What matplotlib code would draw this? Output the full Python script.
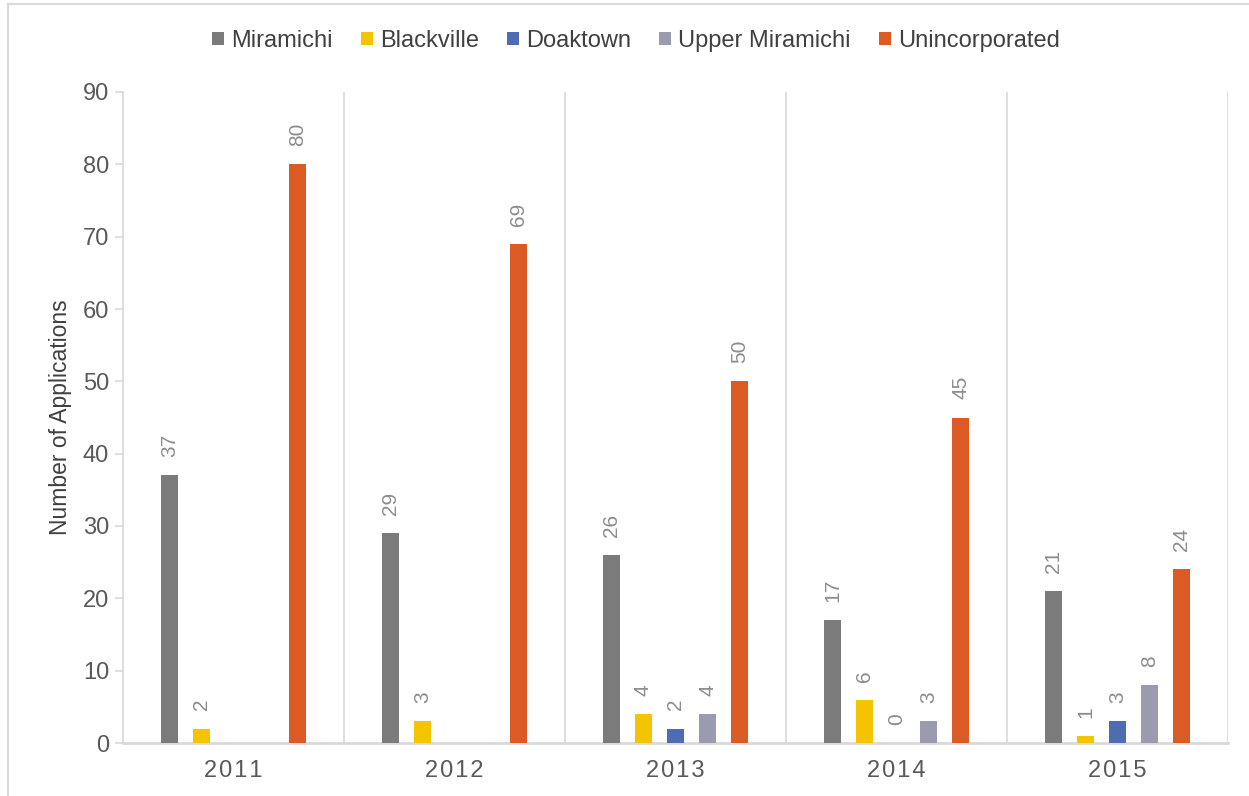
import numpy as np
import matplotlib.pyplot as plt
from matplotlib.lines import Line2D

plt.rcParams['font.family'] = ['Liberation Sans', 'DejaVu Sans']

years = ['2011', '2012', '2013', '2014', '2015']
series = ['Miramichi', 'Blackville', 'Doaktown', 'Upper Miramichi', 'Unincorporated']
miramichi = [37, 29, 26, 17, 21]
blackville = [2, 3, 4, 6, 1]
doaktown = [np.nan, np.nan, 2, 0, 3]
upper_miramichi = [np.nan, np.nan, 4, 3, 8]
unincorporated = [80, 69, 50, 45, 24]
values = [miramichi, blackville, doaktown, upper_miramichi, unincorporated]
colors = ['#7b7b7b', '#f5c400', '#4e6db0', '#9a9bae', '#dc5a24']

fig = plt.figure(figsize=(12.49, 7.96), dpi=100)
ax = fig.add_axes([123 / 1249, 1 - 743 / 796, (1228 - 123) / 1249, (743 - 92) / 796])

x = np.arange(len(years))
step = 0.1448
width = 0.077
for i, (name, vals, c) in enumerate(zip(series, values, colors)):
    pos = x + (i - 2) * step
    ax.bar(pos, vals, width=width, color=c, label=name, zorder=3)
    for px, v in zip(pos, vals):
        if np.isnan(v):
            continue
        ax.annotate(f'{int(v)}', (px, v), xytext=(0, 13), textcoords='offset points',
                    ha='center', va='bottom', rotation=90, fontsize=15, color='#8c8c8c')

ax.set_xlim(-0.5, len(years) - 0.5)
ax.set_ylim(0, 90)
ax.set_yticks(range(0, 91, 10))
ax.set_xticks(x)
# slight letter spacing like the original
ax.set_xticklabels(['\u200a'.join(y) for y in years], fontsize=17, color='#595959')
ax.tick_params(axis='x', length=0, pad=12)
ax.tick_params(axis='y', labelsize=17, labelcolor='#595959', color='#d9d9d9', length=6, width=1.2, pad=4)

for b in x[:-1] + 0.5:
    ax.axvline(b, color='#d9d9d9', lw=1.2, zorder=1)
ax.axvline(len(years) - 0.5, color='#d9d9d9', lw=1.2, zorder=1)

for s in ['top', 'right']:
    ax.spines[s].set_visible(False)
ax.spines['left'].set_color('#d9d9d9')
ax.spines['left'].set_linewidth(1.2)
ax.spines['bottom'].set_color('#d9d9d9')
ax.spines['bottom'].set_linewidth(2)

ax.set_ylabel('Number of Applications', fontsize=16.5, color='#404040', labelpad=8)

handles, labels = ax.get_legend_handles_labels()
fig.legend(handles, labels, loc='center', bbox_to_anchor=(636 / 1249, 1 - 41 / 796), ncol=5,
           frameon=False, fontsize=17, labelcolor='#404040', handlelength=0.5, handleheight=0.5,
           handletextpad=0.3, columnspacing=1.2)

# outer frame of the chart area
fig.add_artist(Line2D([8 / 1249, 1], [1 - 4 / 796, 1 - 4 / 796], color='#d9d9d9', lw=1.5))
fig.add_artist(Line2D([8 / 1249, 8 / 1249], [0, 1 - 4 / 796], color='#d9d9d9', lw=1.5))

fig.savefig('out.png', dpi=100)
